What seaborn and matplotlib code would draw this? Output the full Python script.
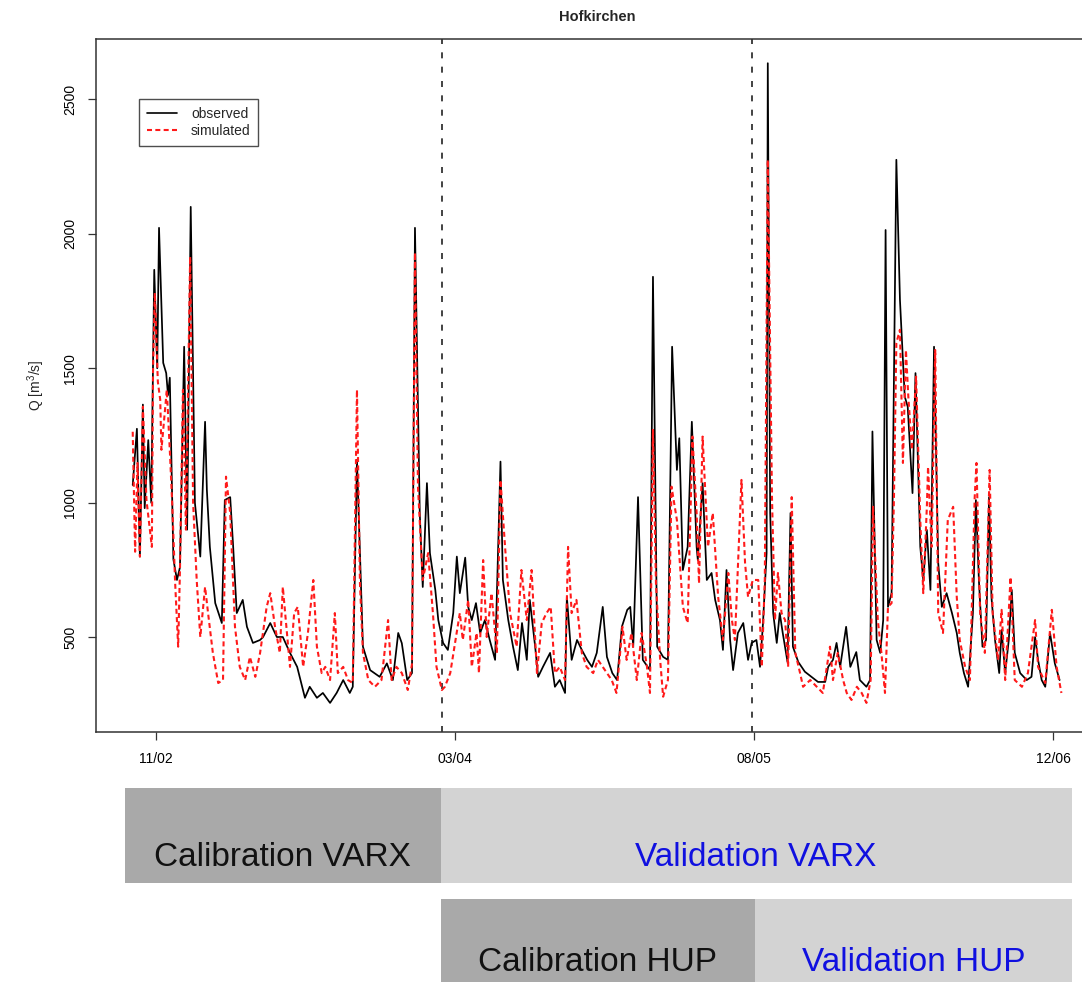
import numpy as np
import pandas as pd
import matplotlib
matplotlib.use("Agg")
import matplotlib.pyplot as plt
from matplotlib.lines import Line2D
import seaborn as sns

# ---------------- data (day index from start of record, discharge m3/s) ----------------
obs_day = [0, 7, 12, 17, 20, 26, 31, 36, 41, 44, 51, 56, 59, 62, 68, 74, 79, 86, 91, 97,
           104, 113, 121, 124, 129, 138, 149, 154, 163, 168, 174, 184, 191, 201, 213, 218,
           230, 241, 251, 263, 275, 288, 296, 308, 318, 330, 341, 352, 363, 368, 375, 385,
           397, 413, 425, 435, 444, 450, 459, 467, 472, 480, 485, 492, 497, 506, 511, 519,
           527, 536, 542, 547, 556, 561, 567, 574, 581, 589, 597, 606, 615, 619, 628, 636,
           644, 651, 659, 664, 673, 678, 686, 698, 706, 714, 723, 726, 734, 743, 751, 760,
           768, 776, 786, 793, 802, 810, 818, 827, 832, 837, 845, 853, 865, 870, 877, 887,
           895, 902, 910, 914, 920, 928, 935, 943, 945, 953, 960, 968, 974, 982, 987, 993,
           999, 1004, 1012, 1021, 1029, 1035, 1043, 1049, 1054, 1060, 1062, 1066, 1071, 1077,
           1082, 1087, 1095, 1100, 1104, 1113, 1124, 1135, 1146, 1158, 1163, 1171, 1177,
           1183, 1193, 1200, 1210, 1216, 1227, 1233, 1237, 1244, 1250, 1255, 1259, 1263,
           1269, 1277, 1283, 1291, 1296, 1304, 1309, 1317, 1322, 1328, 1334, 1340, 1347,
           1353, 1361, 1370, 1378, 1383, 1390, 1397, 1405, 1410, 1415, 1421, 1427, 1432,
           1436, 1442, 1449, 1453, 1459, 1465, 1470, 1475, 1484, 1495, 1503, 1509, 1514,
           1520, 1526, 1534, 1542, 1550]
obs_q = [1066, 1275, 800, 1365, 980, 1233, 1000, 1866, 1500, 2022, 1520, 1482, 1400, 1465,
         790, 713, 760, 1580, 900, 2100, 1000, 800, 1301, 1048, 836, 627, 553, 1010, 1021,
         836, 590, 639, 539, 479, 490, 501, 553, 501, 501, 442, 390, 275, 316, 275, 293,
         256, 293, 341, 293, 316, 1160, 465, 378, 353, 403, 341, 516, 478, 341, 367, 2022,
         962, 687, 1073, 813, 676, 564, 479, 453, 590, 800, 664, 796, 613, 564, 627, 516,
         564, 490, 416, 1153, 713, 564, 465, 378, 553, 416, 639, 465, 353, 390, 442, 316,
         341, 293, 650, 416, 490, 453, 416, 390, 442, 613, 427, 367, 341, 539, 602, 613,
         465, 1021, 416, 378, 1840, 465, 427, 416, 1580, 1122, 1240, 750, 836, 1301, 836,
         787, 1073, 713, 739, 639, 564, 453, 750, 490, 378, 516, 553, 416, 479, 490, 390,
         553, 813, 2634, 962, 590, 479, 590, 516, 408, 962, 465, 408, 372, 353, 334, 334,
         390, 416, 479, 390, 539, 390, 445, 341, 316, 341, 1265, 490, 442, 564, 2014, 613,
         664, 2275, 1755, 1395, 1357, 1036, 1482, 836, 713, 899, 676, 1580, 776, 613, 664,
         590, 516, 442, 367, 316, 590, 1010, 713, 465, 490, 1021, 650, 490, 367, 527, 367,
         490, 676, 442, 367, 341, 353, 501, 416, 341, 316, 516, 403, 341]

sim_day = [0, 4, 8, 12, 17, 23, 32, 34, 37, 42, 46, 48, 57, 62, 66, 71, 76, 79, 84, 89, 96,
           101, 107, 113, 121, 126, 134, 143, 151, 156, 163, 171, 179, 188, 196, 205, 213,
           224, 230, 238, 246, 251, 258, 263, 270, 276, 285, 293, 302, 308, 316, 322, 330,
           338, 343, 352, 360, 368, 375, 380, 385, 394, 405, 416, 427, 433, 441, 450, 460,
           467, 472, 477, 485, 494, 502, 508, 517, 522, 531, 539, 547, 552, 561, 567, 575,
           579, 586, 592, 600, 609, 615, 623, 631, 642, 650, 659, 667, 676, 684, 692, 699,
           706, 714, 723, 728, 734, 742, 751, 759, 770, 778, 786, 801, 809, 819, 826, 834,
           843, 851, 860, 865, 870, 875, 882, 887, 895, 901, 910, 920, 928, 936, 943, 947,
           953, 962, 970, 979, 987, 996, 1002, 1007, 1018, 1024, 1029, 1037, 1046, 1052,
           1057, 1062, 1069, 1074, 1079, 1085, 1091, 1096, 1102, 1108, 1116, 1121, 1133,
           1144, 1154, 1166, 1171, 1179, 1188, 1194, 1202, 1211, 1219, 1227, 1234, 1238,
           1246, 1252, 1258, 1263, 1269, 1273, 1277, 1283, 1288, 1293, 1297, 1303, 1310,
           1317, 1322, 1328, 1330, 1336, 1342, 1347, 1355, 1363, 1372, 1378, 1383, 1392,
           1400, 1408, 1411, 1417, 1425, 1433, 1438, 1447, 1453, 1459, 1468, 1475, 1487,
           1497, 1509, 1514, 1526, 1537, 1545, 1553]
sim_q = [1264, 818, 1148, 800, 1357, 1010, 836, 1500, 1780, 1450, 1383, 1197, 1420, 1197,
         999, 700, 465, 750, 1420, 900, 1915, 1000, 713, 501, 687, 590, 442, 330, 341, 1097,
         962, 539, 390, 341, 427, 353, 442, 613, 664, 539, 442, 687, 516, 390, 590, 613, 390,
         516, 713, 465, 367, 390, 341, 590, 367, 390, 341, 330, 1420, 700, 442, 341, 316,
         341, 564, 341, 390, 367, 304, 400, 1930, 1060, 713, 813, 590, 390, 304, 316, 367,
         479, 590, 490, 639, 390, 516, 367, 787, 501, 664, 442, 1085, 825, 590, 465, 750,
         564, 750, 367, 553, 590, 613, 367, 390, 341, 836, 590, 639, 442, 390, 367, 416, 390,
         341, 293, 539, 416, 516, 341, 516, 390, 293, 1271, 700, 416, 279, 341, 1060, 936,
         613, 553, 1246, 962, 700, 1246, 836, 962, 650, 490, 739, 564, 490, 1085, 776, 650,
         713, 713, 390, 713, 2275, 1021, 564, 739, 590, 564, 390, 1021, 442, 367, 316, 341,
         316, 293, 465, 341, 442, 341, 293, 267, 316, 293, 256, 341, 985, 564, 442, 293, 613,
         627, 1021, 1594, 1643, 1148, 1568, 1395, 1197, 1469, 936, 664, 985, 1134, 836, 1568,
         590, 516, 936, 985, 650, 490, 390, 341, 1021, 1148, 590, 442, 1122, 590, 416, 602,
         341, 724, 341, 316, 367, 564, 390, 330, 602, 390, 293]

tick_days = [39, 539, 1039, 1539]
tick_labels = ["11/02", "03/04", "08/05", "12/06"]
split_days = [518, 1036]

varx_edges = [-13, 515, 1570]
varx_labels = ["Calibration VARX", "Validation VARX"]
hup_edges = [515, 1041, 1570]
hup_labels = ["Calibration HUP", "Validation HUP"]

# ---------------- styling ----------------
sns.set_theme(style="ticks")
plt.rcParams['font.family'] = ['Liberation Sans', 'DejaVu Sans']
plt.rcParams['mathtext.fontset'] = 'custom'
plt.rcParams['mathtext.rm'] = 'Liberation Sans'

W, H = 1082, 982
fig = plt.figure(figsize=(W / 100, H / 100), dpi=100)
fig.patch.set_facecolor('white')


def px_axes(x0, y0, x1, y1):
    return fig.add_axes([x0 / W, 1 - y1 / H, (x1 - x0) / W, (y1 - y0) / H])


ax = px_axes(96, 39, 1098, 731.7)
ax.set_facecolor('white')

df = pd.concat([
    pd.DataFrame({'day': obs_day, 'Q': obs_q, 'series': 'observed'}),
    pd.DataFrame({'day': sim_day, 'Q': sim_q, 'series': 'simulated'}),
], ignore_index=True)

sns.lineplot(data=df, x='day', y='Q', hue='series', style='series',
             hue_order=['observed', 'simulated'],
             palette={'observed': 'black', 'simulated': '#ff1a1a'},
             dashes={'observed': '', 'simulated': (2.4, 1.6)},
             estimator=None, sort=False, ax=ax, legend=False)
ax.lines[0].set_linewidth(1.25)
ax.lines[1].set_linewidth(1.5)

for d in split_days:
    ax.axvline(d, color='#222222', lw=1.2, linestyle=(0, (3.6, 5.0)), zorder=1)

ax.set_xlim(-61.4, 1614.2)
ax.set_ylim(149, 2724)
ax.set_xticks(tick_days)
ax.set_xticklabels(tick_labels)
ax.set_yticks([500, 1000, 1500, 2000, 2500])
ax.set_yticklabels(['500', '1000', '1500', '2000', '2500'], rotation=90, va='center')
ax.tick_params(axis='both', direction='out', length=5.5, width=0.9, color='#333333',
               labelsize=10, pad=8, labelcolor='black')
ax.tick_params(axis='x', pad=9)
for s in ax.spines.values():
    s.set_color('#333333')
    s.set_linewidth(1.1)
    s.set_visible(True)

ax.set_xlabel('')
ax.set_ylabel('Q [m$^3$/s]', fontsize=10, labelpad=12)
ax.set_title('Hofkirchen', fontsize=10.5, fontweight='bold', pad=13)

handles = [Line2D([], [], color='black', lw=1.2),
           Line2D([], [], color='#ff1a1a', lw=1.5, linestyle=(0, (2.4, 1.6)))]
leg = ax.legend(handles, ['observed', 'simulated'], loc='upper left',
                bbox_to_anchor=(0.0429, 0.9134), frameon=True, fancybox=False,
                fontsize=10, handlelength=2.2, handletextpad=1.0, borderpad=0.55,
                labelspacing=0.25, borderaxespad=0)
leg.get_frame().set_edgecolor('#222222')
leg.get_frame().set_linewidth(1.0)

# ---------------- period bars below ----------------
ax2 = px_axes(96, 770, 1098, 982)
ax2.set_xlim(-61.4, 1614.2)
ax2.set_ylim(982, 770)
ax2.axis('off')

rows = [(varx_edges, varx_labels, 787.7, 883.3, 866),
        (hup_edges, hup_labels, 899.3, 1000, 971)]
fills = ['#a9a9a9', '#d3d3d3']
tcolors = ['#111111', '#1010e0']
for edges, labels, top, bot, base in rows:
    for i, lab in enumerate(labels):
        ax2.barh(y=(top + bot) / 2, width=edges[i + 1] - edges[i], left=edges[i],
                 height=bot - top, color=fills[i], edgecolor='none')
        ax2.text((edges[i] + edges[i + 1]) / 2, base, lab, ha='center', va='baseline',
                 fontsize=24, color=tcolors[i])

fig.savefig('out.png', dpi=100, facecolor='white')
